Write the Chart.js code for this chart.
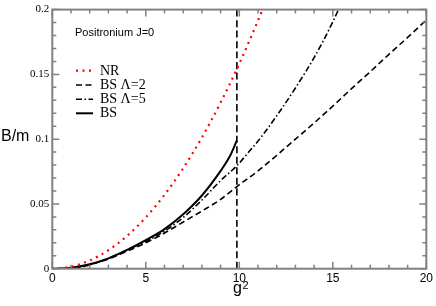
<!DOCTYPE html>
<html>
<head>
<meta charset="utf-8">
<script src="https://cdn.jsdelivr.net/npm/chart.js@4.4.1/dist/chart.umd.min.js"></script>
<style>
  html, body { margin: 0; padding: 0; background: #fff; }
</style>
</head>
<body>
<canvas id="chart" width="436" height="306"></canvas>
<script>
// values (x = g^2, y = B/m)
const g2NR = [0, 1, 2, 3, 4, 5, 6, 7, 8, 9, 10, 11, 11.24];
const bNR  = [0, 0.0016, 0.0063, 0.0143, 0.0253, 0.0396, 0.057, 0.0776, 0.1013, 0.1282, 0.1583, 0.1916, 0.2];

const g2L2 = [1.2, 2, 3, 4, 5, 6, 7, 8, 9, 9.87, 11, 12, 13, 14, 15, 16, 17, 18, 19, 20];
const bL2  = [0, 0.003, 0.0075, 0.0135, 0.02, 0.0275, 0.036, 0.0445, 0.0535, 0.0634, 0.0755, 0.0875, 0.1, 0.1125, 0.1255, 0.139, 0.152, 0.1655, 0.1785, 0.192];

const g2L5 = [1.2, 2, 3, 4, 5, 6, 7, 8, 9, 9.87, 10.5, 11, 12, 13, 14, 15, 15.3];
const bL5  = [0, 0.003, 0.008, 0.0145, 0.021, 0.029, 0.0395, 0.053, 0.068, 0.0795, 0.09, 0.0985, 0.118, 0.1395, 0.163, 0.1905, 0.2];

const g2BS = [0, 1, 2, 3, 4, 5, 6, 7, 8, 9, 9.5, 9.87];
const bBS  = [0, 0.0008, 0.0035, 0.008, 0.0145, 0.022, 0.0305, 0.042, 0.0565, 0.0755, 0.087, 0.099];

// vertical marker at g^2 = pi^2
const g2Cut = [9.87, 9.87];
const bCut  = [0, 0.2];

const legendLabels = ['NR', 'BS \u039B=2', 'BS \u039B=5', 'BS'];

const serif = '"Liberation Serif", "DejaVu Serif", serif';
const sans = '"Liberation Sans", Arial, sans-serif';

let pts = (xs, ys) => xs.map((x, i) => ({ x: x, y: ys[i] }));

const data = {
    datasets: [
        { label: legendLabels[0], data: pts(g2NR, bNR), borderColor: '#ff0000', borderWidth: 2.2, borderDash: [2, 4.5] },
        { label: legendLabels[1], data: pts(g2L2, bL2), borderColor: '#000', borderWidth: 1.6, borderDash: [6, 3.5] },
        { label: legendLabels[2], data: pts(g2L5, bL5), borderColor: '#000', borderWidth: 1.6, borderDash: [6, 2.5, 1.5, 2.5] },
        { label: legendLabels[3], data: pts(g2BS, bBS), borderColor: '#000', borderWidth: 2 },
        { label: 'cut', data: pts(g2Cut, bCut), borderColor: '#000', borderWidth: 1.6, borderDash: [7, 3.5] },
    ]
};

// frame, inward ticks, legend and axis names
const decorations = {
    id: 'decorations',
    afterDraw(chart) {
        const ctx = chart.ctx;
        const a = chart.chartArea;
        const xs = chart.scales.x, ys = chart.scales.y;
        ctx.save();
        ctx.strokeStyle = '#808080';
        ctx.lineWidth = 1.5;
        for (let v = 0; v <= 20; v++) {
            const px = xs.getPixelForValue(v);
            const len = v % 5 === 0 ? 7 : 4;
            ctx.beginPath();
            ctx.moveTo(px, a.bottom); ctx.lineTo(px, a.bottom - len);
            ctx.moveTo(px, a.top); ctx.lineTo(px, a.top + len);
            ctx.stroke();
        }
        for (let k = 0; k <= 20; k++) {
            const py = ys.getPixelForValue(k / 100);
            const len = k % 5 === 0 ? 7 : 4;
            ctx.beginPath();
            ctx.moveTo(a.left, py); ctx.lineTo(a.left + len, py);
            ctx.moveTo(a.right, py); ctx.lineTo(a.right - len, py);
            ctx.stroke();
        }
        ctx.lineWidth = 2;
        ctx.strokeRect(a.left, a.top, a.right - a.left, a.bottom - a.top);

        // legend
        ctx.fillStyle = '#000';
        ctx.textBaseline = 'middle';
        ctx.font = '11px ' + sans;
        ctx.fillText('Positronium J=0', 75, 33);
        ctx.font = '14px ' + serif;
        const rows = [70.7, 85, 99.3, 113.3];
        for (let i = 0; i < 4; i++) {
            const ds = chart.data.datasets[i];
            ctx.strokeStyle = ds.borderColor;
            ctx.lineWidth = ds.borderWidth;
            ctx.setLineDash(ds.borderDash || []);
            ctx.beginPath();
            ctx.moveTo(76, rows[i]); ctx.lineTo(93, rows[i]);
            ctx.stroke();
            ctx.setLineDash([]);
            ctx.fillText(legendLabels[i], 100, rows[i] + 0.5);
        }

        // axis names
        ctx.font = '16px ' + sans;
        ctx.fillText('B/m', 1, 137);
        ctx.textBaseline = 'alphabetic';
        ctx.fillText('g', 233, 293);
        ctx.font = '11px ' + sans;
        ctx.fillText('2', 242.5, 288.5);
        ctx.restore();
    }
};

const config = {
    type: 'line',
    data,
    options: {
        responsive: false,
        animation: false,
        layout: { padding: { top: 4.7, right: 6.7, left: 0, bottom: 0 } },
        plugins: { legend: { display: false }, tooltip: { enabled: false } },
        elements: {
            point: { radius: 0 },
            line: { tension: 0, cubicInterpolationMode: 'monotone', fill: false }
        },
        scales: {
            x: {
                type: 'linear', min: 0, max: 20,
                grid: { display: false, drawTicks: false },
                border: { display: false },
                ticks: { stepSize: 5, padding: 3, color: '#000', font: { family: sans, size: 12 } },
                afterFit: (s) => { s.height = 37.3; }
            },
            y: {
                type: 'linear', min: 0, max: 0.2,
                grid: { display: false, drawTicks: false },
                border: { display: false },
                ticks: {
                    stepSize: 0.05, padding: 3, color: '#000', font: { family: serif, size: 11 },
                    callback: (v) => String(Math.round(v * 100) / 100)
                },
                afterFit: (s) => { s.width = 52.3; }
            }
        }
    },
    plugins: [decorations]
};

new Chart(document.getElementById('chart'), config);
</script>
</body>
</html>
